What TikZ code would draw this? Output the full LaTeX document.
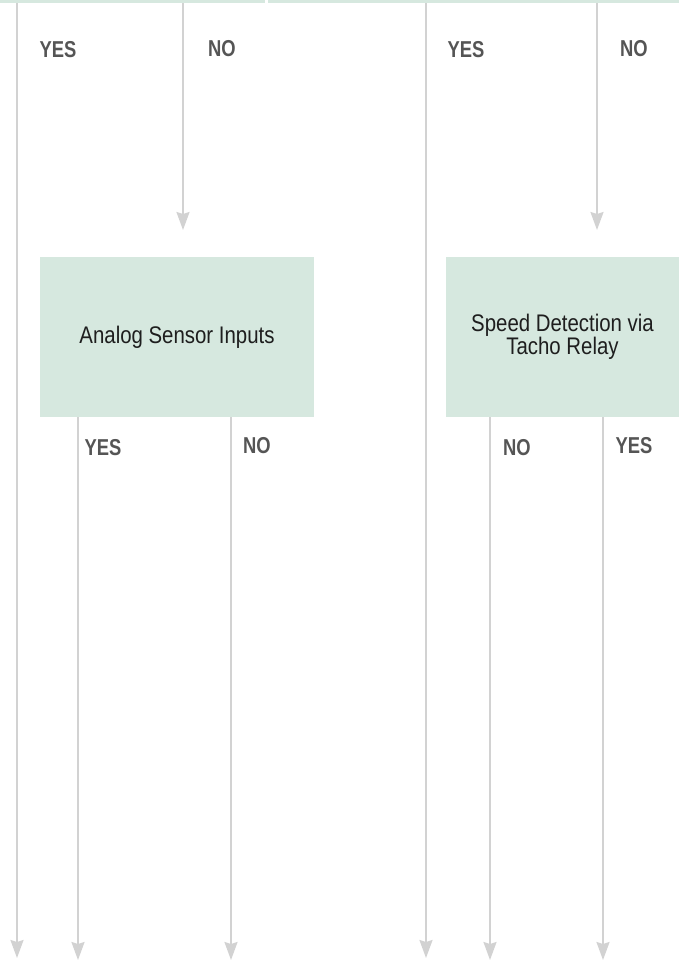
\documentclass[tikz,border=0pt]{standalone}
\usepackage{fontspec}
\setmainfont{Liberation Sans}
\newfontfamily\condfont[FakeStretch=0.85]{Liberation Sans}
\newfontfamily\labfont[FakeStretch=0.8]{Liberation Sans}
\usetikzlibrary{arrows.meta}
\definecolor{boxgreen}{HTML}{D6E8DF}
\definecolor{linegray}{HTML}{D2D2D2}
\definecolor{labgray}{HTML}{555555}
\definecolor{txtdark}{HTML}{1E1E1E}
\tikzset{
  flowbox/.style={fill=boxgreen, draw=none, inner sep=0pt, align=center,
    text=txtdark, font=\condfont\fontsize{24}{20}\selectfont},
  topbar/.style={fill=boxgreen, draw=none, inner sep=0pt, minimum height=3pt, anchor=north west},
  flowarrow/.style={draw=linegray, line width=2pt,
    -{Stealth[inset=2pt, length=18pt, width=13pt, fill=linegray]}},
  answer/.style={inner sep=0pt, text=labgray, font=\labfont\bfseries\fontsize{23}{23}\selectfont}
}
\begin{document}
\begin{tikzpicture}[x=1pt,y=-1pt]
\useasboundingbox (0,0) rectangle (679,963);
% top bars (cut-off boxes)
\node[topbar, minimum width=265pt] (t1) at (0,0) {};
\node[topbar, minimum width=411pt] (t2) at (268,0) {};
% boxes
\node[flowbox, minimum width=274pt, minimum height=160pt] (b1) at (177,337) {Analog Sensor Inputs};
\node[flowbox, minimum width=233pt, minimum height=160pt] (b2) at (562.5,337) {Speed Detection via\\Tacho Relay};
% end points
\coordinate (e1) at (17,958);
\coordinate (e2) at (183,230);
\coordinate (e3) at (426,958);
\coordinate (e4) at (597,230);
\coordinate (e5) at (78,960);
\coordinate (e6) at (231,960);
\coordinate (e7) at (490,960);
\coordinate (e8) at (603,960);
% connectors
\draw[flowarrow] (t1.south -| e1) -- (e1);
\draw[flowarrow] (t1.south -| e2) -- (e2);
\draw[flowarrow] (t2.south -| e3) -- (e3);
\draw[flowarrow] (t2.south -| e4) -- (e4);
\draw[flowarrow] (b1.south -| e5) -- (e5);
\draw[flowarrow] (b1.south -| e6) -- (e6);
\draw[flowarrow] (b2.south -| e7) -- (e7);
\draw[flowarrow] (b2.south -| e8) -- (e8);
% labels
\node[answer] (l1) at (58,50) {YES};
\node[answer] (l2) at (222,49) {NO};
\node[answer] (l3) at (466,50) {YES};
\node[answer] (l4) at (634,49) {NO};
\node[answer] (l5) at (103,448) {YES};
\node[answer] (l6) at (257,446) {NO};
\node[answer] (l7) at (517,448) {NO};
\node[answer] (l8) at (634,446) {YES};
\end{tikzpicture}
\end{document}
